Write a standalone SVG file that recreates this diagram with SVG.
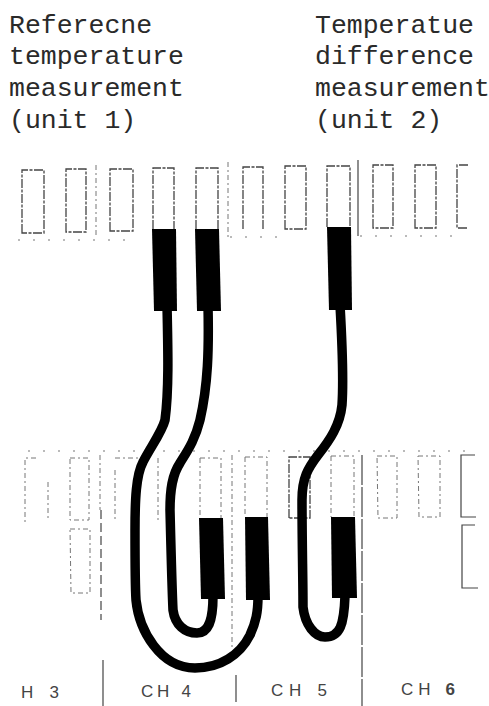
<svg xmlns="http://www.w3.org/2000/svg" width="489" height="706" viewBox="0 0 489 706">
<style>
.t{font-family:"Liberation Mono","DejaVu Sans Mono",monospace;font-size:26.5px;fill:#2a2a2a}
.c{font-family:"Liberation Sans",Arial,sans-serif;font-size:17px;fill:#444}
.s{fill:none;stroke:#444;stroke-width:1.3;stroke-dasharray:9 1.5 3 1.5}
.l{fill:none;stroke:#777;stroke-width:1;stroke-dasharray:5 3 2 3}
.p{fill:none;stroke:#777;stroke-width:1.2;stroke-dasharray:2 13}
.d{fill:none;stroke:#444;stroke-width:1.2}
.w{fill:none;stroke:#000;stroke-width:9.5;stroke-linecap:butt}
.b{fill:#000}
</style>
<rect width="489" height="706" fill="#fff"/>
<g id="label-unit1"><text class="t" x="9" y="33">Referecne</text><text class="t" x="9" y="64">temperature</text><text class="t" x="9" y="96">measurement</text><text class="t" x="9" y="128">(unit 1)</text></g>
<g id="label-unit2"><text class="t" x="315" y="33">Temperatue</text><text class="t" x="315" y="64">difference</text><text class="t" x="315" y="96">measurement</text><text class="t" x="315" y="128">(unit 2)</text></g>
<g id="upper-sockets">
<path class="s" d="M22 233V170H44V233Z"/><path class="s" d="M66 232V169H86V232Z"/><path class="s" d="M110 231V169H133V231Z"/>
<path class="s" d="M153 229V168H174V229"/><path class="s" d="M196 229V168H218V229"/><path class="s" d="M243 229V167H263V229"/>
<path class="s" d="M285 229V166H306V229Z"/><path class="s" d="M327 227V166H350V227"/><path class="s" d="M373 228V165H393V228Z"/>
<path class="s" d="M415 228V165H436V228Z"/><path class="s" d="M468 165H457V228H467"/>
</g>
<g id="lower-sockets">
<path class="l" d="M36 458H25V522"/><path class="l" d="M48 482V520"/><path class="l" d="M70 458H89V520H70V458"/>
<path class="l" d="M70 529H90V593H71Z"/><path class="l" d="M115 458H138M115 470V520M158 458V520"/>
<path class="l" d="M200 458H221V518M200 458V518"/><path class="l" d="M245 457H267V517M245 457V517"/>
<path class="s" d="M289 518V457H310V518Z"/><path class="l" d="M331 456H354V517M331 456V517"/>
<path class="l" d="M377 456H397V518H378Z"/><path class="l" d="M418 456H440V517H419Z"/>
<path class="d" d="M475 455H461V517H476M475 525H462V588H478"/>
</g>
<g id="dividers">
<path class="l" d="M96 165V238"/><path class="l" d="M228 162V237"/><path class="d" d="M358 160V236" stroke-width="1.6"/>
<path class="p" d="M18 240H135M230 237H290M360 236H460"/>
<path class="p" d="M28 451H470"/>
<path class="l" d="M100 455V510"/><path class="d" d="M101 510V620" stroke-dasharray="9 4"/><path class="d" d="M103 660V706"/>
<path class="l" d="M232 455V650"/><path class="d" d="M236 675V702"/>
<path class="d" d="M362 455V706" stroke-dasharray="30 2"/>
</g>
<g id="connectors">
<path class="w" d="M167 305C168 350 169 390 165 420C162 432 150 448 143 462C136 475 135 500 135 530C135 560 135 585 136 600C139 630 160 668 195 668C220 668 240 655 250 635C256 622 258 612 258 596"/>
<path class="w" d="M208 305C209 350 208 385 200 420C195 440 188 450 180 463C172 475 170 490 170 510C171 550 172 590 173 610C175 625 185 633 197 633C208 633 213 622 213 596"/>
<path class="w" d="M340 305C342 340 344 375 342 405C340 425 330 440 318 455C308 468 302 478 302 500C302 540 303 580 303 607C305 625 315 637 325 637C340 637 344 625 345 596"/>
</g>
<g id="connector-bodies">
<path class="b" d="M152 229H176L177 311H154Z"/><path class="b" d="M195 229H219L221 311H197Z"/><path class="b" d="M327 227H351L352 310H329Z"/>
<path class="b" d="M199 518H223L225 599H201Z"/><path class="b" d="M245 517H268L270 600H246Z"/><path class="b" d="M331 517H355L357 598H332Z"/>
</g>
<g id="channel-labels">
<text class="c" x="21" y="698" textLength="38">H 3</text><text class="c" x="141" y="697" textLength="50">CH 4</text><text class="c" x="271" y="696" textLength="56">CH 5</text><text class="c" x="401" y="695" textLength="54">CH <tspan font-weight="bold">6</tspan></text>
</g>
</svg>
